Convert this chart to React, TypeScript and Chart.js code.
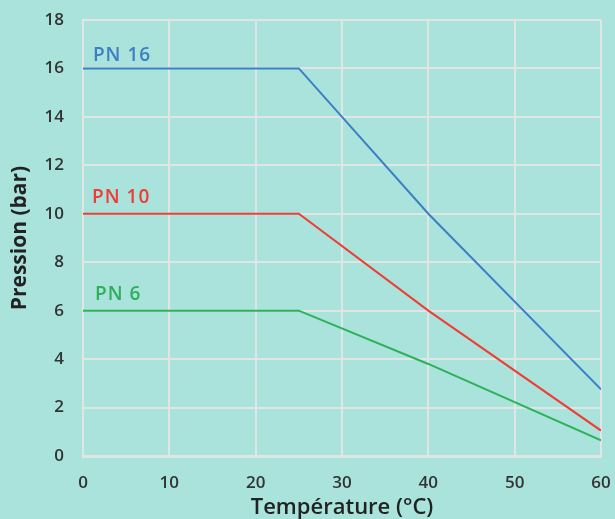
import React, { useEffect, useRef } from "react";
import { Chart, registerables } from "chart.js";

Chart.register(...registerables);

const seriesNames = ["PN 16", "PN 10", "PN 6"];
const pn16 = [
  { x: 0, y: 16 },
  { x: 25, y: 16 },
  { x: 40, y: 10 },
  { x: 60, y: 2.75 },
];
const pn10 = [
  { x: 0, y: 10 },
  { x: 25, y: 10 },
  { x: 40, y: 6 },
  { x: 60, y: 1.05 },
];
const pn6 = [
  { x: 0, y: 6 },
  { x: 25, y: 6 },
  { x: 40, y: 3.8 },
  { x: 60, y: 0.65 },
];
const labelAnchors = [
  { x: 1.15, y: 16.3 },
  { x: 1.05, y: 10.45 },
  { x: 1.4, y: 6.45 },
];
const colors = ["#3d7fc4", "#f03c35", "#2db158"];
const BG = "#a9e3dc";
const GRID = "#dfe6e4";
const FONT = "'Open Sans', sans-serif";

const labelPlugin = {
  id: "seriesLabels",
  afterDatasetsDraw(chart: any) {
    const { ctx, scales } = chart;
    ctx.save();
    ctx.font = `600 19px ${FONT}`;
    (ctx as any).letterSpacing = "1px";
    ctx.textAlign = "left";
    ctx.textBaseline = "alphabetic";
    seriesNames.forEach((name, i) => {
      ctx.fillStyle = colors[i];
      ctx.fillText(
        name,
        scales.x.getPixelForValue(labelAnchors[i].x),
        scales.y.getPixelForValue(labelAnchors[i].y)
      );
    });
    ctx.restore();
  },
};

const bgPlugin = {
  id: "bg",
  beforeDraw(chart: any) {
    const { ctx, width, height } = chart;
    ctx.save();
    ctx.fillStyle = BG;
    ctx.fillRect(0, 0, width, height);
    ctx.restore();
  },
};

export default function App() {
  const ref = useRef<HTMLCanvasElement>(null);
  useEffect(() => {
    document.body.style.margin = "0";
    document.body.style.background = BG;
    const data = [pn16, pn10, pn6];
    const chart = new Chart(ref.current as HTMLCanvasElement, {
      type: "line",
      data: {
        datasets: data.map((d, i) => ({
          label: seriesNames[i],
          data: d,
          borderColor: colors[i],
          borderWidth: 2,
          pointRadius: 0,
          tension: 0,
          fill: false,
        })),
      },
      plugins: [bgPlugin, labelPlugin],
      options: {
        animation: false,
        responsive: false,
        layout: { padding: { top: 20, right: 14, left: 0, bottom: 0 } },
        plugins: { legend: { display: false }, tooltip: { enabled: false } },
        scales: {
          x: {
            type: "linear",
            min: 0,
            max: 60,
            afterFit: (s: any) => {
              s.height = 63;
              s.paddingLeft = 0;
              s.paddingRight = 0;
            },
            ticks: {
              stepSize: 10,
              padding: 17,
              color: "#333",
              font: { family: FONT, size: 17, weight: "600" },
            },
            grid: { color: GRID, lineWidth: 2, drawTicks: false },
            border: { display: true, color: GRID, width: 3 },
            title: {
              display: true,
              text: "Température (°C)",
              color: "#222",
              padding: { top: 0, bottom: -2 },
              font: { family: FONT, size: 22, weight: "600" },
            },
          },
          y: {
            type: "linear",
            min: 0,
            max: 18,
            afterFit: (s: any) => {
              s.width = 83;
              s.paddingTop = 0;
              s.paddingBottom = 0;
            },
            ticks: {
              stepSize: 2,
              padding: 19,
              color: "#333",
              font: { family: FONT, size: 17, weight: "600" },
            },
            grid: { color: GRID, lineWidth: 2, drawTicks: false },
            border: { display: true, color: GRID, width: 2 },
            title: {
              display: true,
              text: "Pression (bar)",
              color: "#222",
              padding: { top: 7, bottom: 0 },
              font: { family: FONT, size: 21, weight: "bold" },
            },
          },
        },
      },
    } as any);
    return () => chart.destroy();
  }, []);
  return (
    <div style={{ width: 615, height: 519, position: "absolute", left: 0, top: 0, background: BG }}>
      <canvas ref={ref} width={615} height={519} />
    </div>
  );
}
